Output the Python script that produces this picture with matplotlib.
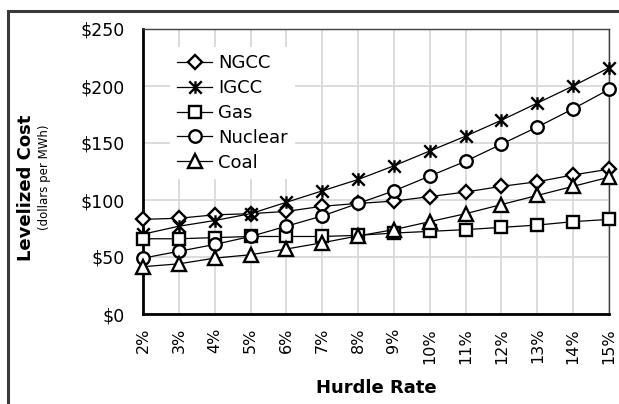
import matplotlib
matplotlib.use("Agg")
import matplotlib.pyplot as plt
from matplotlib.path import Path
from matplotlib.patches import Rectangle

# hurdle rates (categories)
rates = ["2%", "3%", "4%", "5%", "6%", "7%", "8%", "9%", "10%", "11%", "12%", "13%", "14%", "15%"]

# levelized cost, dollars per MWh
ngcc = [83, 84, 87, 88, 90, 94.5, 97, 99, 103, 107, 112, 116, 122, 127]
igcc = [70, 77, 82, 88, 98, 108, 118, 130, 143, 156, 170, 185, 200, 216]
gas = [66, 66, 67, 68, 68, 68, 69, 71, 72.5, 74, 76, 78, 81, 83]
nuclear = [49, 55, 61, 68, 77, 86, 97, 108, 121, 134, 149, 164, 180, 197]
coal = [41.5, 44, 49, 52, 57, 62.5, 68.5, 74, 81, 88, 96, 104, 112, 120]

yticks = [0, 50, 100, 150, 200, 250]
ytick_labels = ["$0", "$50", "$100", "$150", "$200", "$250"]

# excel-style star: X with a vertical bar
star = Path(
    [(-1, -1), (1, 1), (-1, 1), (1, -1), (0, -1), (0, 1)],
    [Path.MOVETO, Path.LINETO, Path.MOVETO, Path.LINETO, Path.MOVETO, Path.LINETO],
)

series = [
    ("NGCC", ngcc, "D", 7.5),
    ("IGCC", igcc, star, 9),
    ("Gas", gas, "s", 8.5),
    ("Nuclear", nuclear, "o", 9),
    ("Coal", coal, "^", 9.5),
]

W, H = 619, 404
fig = plt.figure(figsize=(W / 100, H / 100), dpi=100)
ax = fig.add_axes([143 / W, 1 - 314 / H, (609 - 143) / W, (314 - 29) / H])

x = list(range(len(rates)))
for name, vals, mk, ms in series:
    ax.plot(x, vals, color="black", linewidth=0.9, marker=mk, markersize=ms,
            markerfacecolor="white", markeredgecolor="black", markeredgewidth=1.7,
            label=name, clip_on=False, zorder=3)

ax.set_xlim(0, len(rates) - 1)
ax.set_ylim(0, 250)
ax.set_xticks(x)
ax.set_xticklabels(rates, rotation=90, fontsize=11.5)
ax.set_yticks(yticks)
ax.set_yticklabels(ytick_labels, fontsize=12.5)
ax.tick_params(axis="both", length=0)
ax.tick_params(axis="y", pad=13)
ax.tick_params(axis="x", pad=10)
ax.grid(True, color="#d9d9d9", linewidth=1.3)
ax.set_axisbelow(True)

for side in ["left", "bottom"]:
    ax.spines[side].set_linewidth(2)
    ax.spines[side].set_color("black")
for side in ["top", "right"]:
    ax.spines[side].set_linewidth(1)
    ax.spines[side].set_color("#404040")

leg = ax.legend(loc="upper left", bbox_to_anchor=(27 / 466, 1 - 18 / 285),
                borderaxespad=0, fontsize=13, frameon=True, fancybox=False,
                handlelength=1.95, handletextpad=0.3, labelspacing=0.38,
                borderpad=0.4)
leg.get_frame().set_facecolor("white")
leg.get_frame().set_edgecolor("none")
leg.get_frame().set_alpha(1)

fig.text(376 / W, 1 - 388 / H, "Hurdle Rate", fontsize=13, fontweight="bold",
         ha="center", va="center")
fig.text(26 / W, 1 - 188 / H, "Levelized Cost", fontsize=13, fontweight="bold",
         rotation=90, ha="center", va="center")
fig.text(44.5 / W, 1 - 177 / H, "(dollars per MWh)", fontsize=8.5,
         rotation=90, ha="center", va="center")

# outer chart frame (cut off at right and bottom)
fig.patches.append(Rectangle((7.5 / W, -0.1), 1.2, 1 - 10.5 / H + 0.1,
                             transform=fig.transFigure, fill=False,
                             edgecolor="#3a3a3a", linewidth=2.2))

fig.savefig("out.png", dpi=100)
